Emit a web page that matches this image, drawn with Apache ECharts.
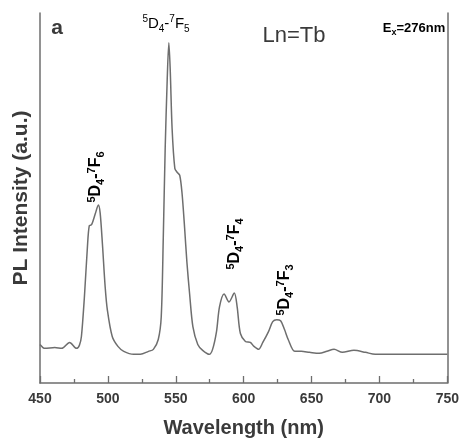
<!DOCTYPE html>
<html lang="en">
<head>
  <meta charset="UTF-8">
  <title>PL spectrum Ln=Tb</title>
  <script src="https://cdn.jsdelivr.net/npm/echarts@6/dist/echarts.min.js"></script>
  <style>
    body { margin: 0; background: #fff; }
  </style>
</head>
<body>
  <div id="chart" style="width: 462px;height: 443px;"></div>
  <script>
    const chart = echarts.init(document.getElementById('chart'))

    // wavelength (nm) and PL intensity (a.u.)
    const wavelength = [450, 453.6, 460.9, 466, 471.8, 476.9, 479, 480.5, 482.7, 484.9, 486.3, 488, 490.7, 493, 494.3, 496, 498, 499.6, 503.2, 507.4, 511.7, 519, 523.9, 529.9, 533.5, 537.1, 539.3, 540.8, 542.2, 543.7, 544.9, 545.9, 547.3, 549.3, 551, 552.9, 554.6, 556.5, 558.2, 560.2, 562.6, 566.2, 569.8, 574.7, 577.1, 580, 582.2, 585.6, 589.2, 593.1, 595.2, 597.6, 601.3, 604.9, 607.6, 611, 614.1, 618.3, 621.4, 624.3, 627.2, 630.1, 632.8, 637.6, 642.4, 648.5, 655.7, 661.3, 666.6, 672.7, 681.2, 689.7, 696.9, 750]
    const intensity = [39, 35, 36, 35, 41, 35, 38, 47, 87, 137, 159, 160, 171, 180, 172, 140, 97, 74, 47, 37, 32, 29, 29, 32, 34, 44, 67, 147, 237, 307, 344, 317, 257, 217, 213, 210, 192, 157, 122, 90, 57, 39, 33, 29, 34, 52, 77, 90, 82, 91, 77, 50, 42, 41, 37, 34, 41, 52, 62, 64, 63, 54, 44, 32, 32, 31, 30, 32, 34, 31, 33, 31, 29, 29]
    const xTicks = [450, 500, 550, 600, 650, 700, 750]

    const grey = '#6e6e6e'
    const textColor = '#3a3a3a'
    const font = 'Liberation Sans'

    const peakRich = {
      b: { fontSize: 16, fontWeight: 'bold', fontFamily: font, color: textColor, lineHeight: 20 },
      sup: { fontSize: 11, fontWeight: 'bold', fontFamily: font, color: textColor, verticalAlign: 'top', lineHeight: 20 },
      sub: { fontSize: 11, fontWeight: 'bold', fontFamily: font, color: textColor, verticalAlign: 'bottom', lineHeight: 20 }
    }
    const topRich = {
      b: { fontSize: 15, fontFamily: font, color: textColor, lineHeight: 20 },
      sup: { fontSize: 10, fontFamily: font, color: textColor, verticalAlign: 'top', lineHeight: 20 },
      sub: { fontSize: 10, fontFamily: font, color: textColor, verticalAlign: 'bottom', lineHeight: 20 }
    }

    function peakText(x, y, f, rotated) {
      return {
        type: 'text',
        x: x,
        y: y,
        rotation: rotated ? Math.PI / 2 : 0,
        style: {
          text: `{sup|5}{b|D}{sub|4}{b|-}{sup|7}{b|F}{sub|${f}}`,
          rich: rotated ? peakRich : topRich,
          align: 'center',
          verticalAlign: 'middle'
        }
      }
    }

    const option = {
      animation: false,
      grid: { left: 40, right: 9, top: 13, bottom: 56 },
      xAxis: {
        type: 'value',
        min: 450,
        max: 750,
        interval: 50,
        name: 'Wavelength (nm)',
        nameLocation: 'middle',
        nameGap: 35,
        nameTextStyle: { fontSize: 20, fontWeight: 'bold', color: textColor, fontFamily: font },
        axisLine: { lineStyle: { color: grey, width: 1.5 } },
        axisTick: { inside: true, length: 7, lineStyle: { color: grey, width: 1.3 } },
        minorTick: { show: true, splitNumber: 2, length: 4, lineStyle: { color: grey, width: 1.3 } },
        axisLabel: {
          fontSize: 14, fontWeight: 'bold', color: textColor, fontFamily: font, margin: 9,
          formatter: v => xTicks.includes(v) ? String(v) : ''
        },
        splitLine: { show: false }
      },
      yAxis: [
        {
          type: 'value',
          min: 0,
          max: 374,
          name: 'PL Intensity (a.u.)',
          nameLocation: 'middle',
          nameGap: 8,
          nameTextStyle: { fontSize: 21, fontWeight: 'bold', color: textColor, fontFamily: font },
          axisLine: { show: true, lineStyle: { color: grey, width: 1.5 } },
          axisTick: { show: false },
          axisLabel: { show: false },
          splitLine: { show: false }
        },
        {
          type: 'value',
          position: 'right',
          min: 0,
          max: 374,
          axisLine: { show: true, lineStyle: { color: grey, width: 1.5 } },
          axisTick: { show: false },
          axisLabel: { show: false },
          splitLine: { show: false }
        }
      ],
      series: [
        {
          type: 'line',
          data: wavelength.map((w, i) => [w, intensity[i]]),
          smooth: 0.3,
          showSymbol: false,
          lineStyle: { color: grey, width: 1.5 }
        }
      ],
      graphic: [
        {
          type: 'text', x: 57, y: 28,
          style: { text: 'a', fontSize: 21, fontWeight: 'bold', fontFamily: font, fill: textColor, align: 'center', verticalAlign: 'middle' }
        },
        {
          type: 'text', x: 294, y: 36,
          style: { text: 'Ln=Tb', fontSize: 22, fontFamily: font, fill: textColor, align: 'center', verticalAlign: 'middle' }
        },
        {
          type: 'text', x: 414, y: 28,
          style: {
            text: '{b|E}{sub|x}{b|=276nm}',
            align: 'center',
            verticalAlign: 'middle',
            rich: {
              b: { fontSize: 13, fontWeight: 'bold', fontFamily: font, color: textColor, lineHeight: 18 },
              sub: { fontSize: 9, fontWeight: 'bold', fontFamily: font, color: textColor, verticalAlign: 'bottom', lineHeight: 18 }
            }
          }
        },
        peakText(166, 24, 5, false),
        peakText(96, 177, 6, true),
        peakText(235, 244, 4, true),
        peakText(285, 290, 3, true)
      ]
    }

    chart.setOption(option)
  </script>
</body>
</html>
